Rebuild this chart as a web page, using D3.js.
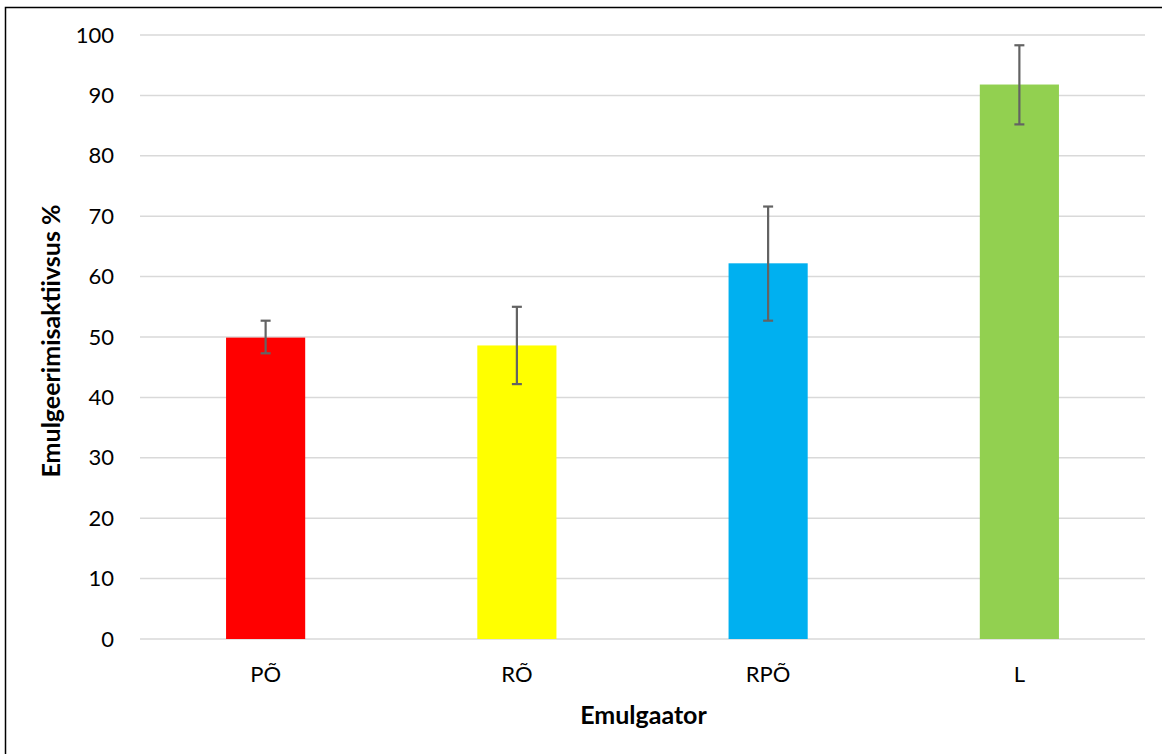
<!DOCTYPE html>
<html><head><meta charset="utf-8">
<script src="https://cdn.jsdelivr.net/npm/d3@7"></script>
<style>body{margin:0;background:#fff}svg{display:block}</style>
</head><body>
<script>
const categories = ["PÕ", "RÕ", "RPÕ", "L"];
const values = [49.9, 48.6, 62.2, 91.8];
const errUpper = [52.7, 55.0, 71.6, 98.3];
const errLower = [47.3, 42.2, 52.7, 85.2];
const colors = ["#FF0000", "#FFFF00", "#00B0F0", "#92D050"];
const yTicks = [0,10,20,30,40,50,60,70,80,90,100];

(function(){
const W = 1162, H = 754;
const font = "Lato, 'Open Sans', sans-serif";
const svg = d3.select("body").append("svg").attr("width", W).attr("height", H);
svg.append("rect").attr("x",5.5).attr("y",7.5).attr("width",W).attr("height",H).attr("fill","#fff").attr("stroke","#000").attr("stroke-width",1.5);

const pLeft = 140, pRight = 1145, pTop = 35, pBottom = 639;
const x = d3.scaleBand().domain(categories).range([pLeft, pRight]).paddingInner(0.685).paddingOuter(0.3425);
const y = d3.scaleLinear().domain([0, 100]).range([pBottom, pTop]);

const grid = svg.append("g");
grid.selectAll("line").data(yTicks).join("line")
  .attr("x1", pLeft).attr("x2", pRight)
  .attr("y1", d => y(d)).attr("y2", d => y(d))
  .attr("stroke", "#D9D9D9").attr("stroke-width", 1.5);

const yAxis = svg.append("g").attr("transform", `translate(${pLeft},0)`)
  .call(d3.axisLeft(y).tickValues(yTicks).tickSize(0).tickPadding(26));
yAxis.select(".domain").remove();
yAxis.selectAll("text").attr("font-family", font).attr("font-size", 22).attr("fill", "#000");

const data = categories.map((c,i)=>({c, v:values[i], hi:errUpper[i], lo:errLower[i], col:colors[i]}));
svg.append("g").selectAll("rect").data(data).join("rect")
  .attr("x", d => x(d.c)).attr("width", x.bandwidth())
  .attr("y", d => y(d.v)).attr("height", d => y(0) - y(d.v))
  .attr("fill", d => d.col);

const eb = svg.append("g").attr("stroke", "#636363").attr("stroke-width", 2.2);
data.forEach(d => {
  const cx = x(d.c) + x.bandwidth()/2;
  eb.append("line").attr("x1", cx).attr("x2", cx).attr("y1", y(d.hi)).attr("y2", y(d.lo));
  eb.append("line").attr("x1", cx-5).attr("x2", cx+5).attr("y1", y(d.hi)).attr("y2", y(d.hi));
  eb.append("line").attr("x1", cx-5).attr("x2", cx+5).attr("y1", y(d.lo)).attr("y2", y(d.lo));
});

const xAxis = svg.append("g").attr("transform", `translate(0,${pBottom})`)
  .call(d3.axisBottom(x).tickSize(0).tickPadding(27));
xAxis.select(".domain").remove();
xAxis.selectAll("text").attr("font-family", font).attr("font-size", 22).attr("fill", "#000");

svg.append("text").attr("x", (pLeft+pRight)/2 + 1).attr("y", 724).attr("text-anchor","middle")
  .attr("font-family", font).attr("font-size", 25).attr("font-weight","bold").text("Emulgaator");
svg.append("text").attr("transform", `translate(60,341) rotate(-90)`).attr("text-anchor","middle")
  .attr("font-family", font).attr("font-size", 25).attr("font-weight","bold").text("Emulgeerimisaktiivsus %");
})();
</script>
</body></html>
